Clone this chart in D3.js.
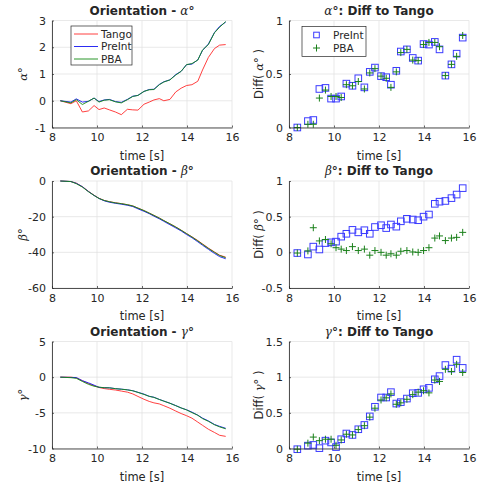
<!DOCTYPE html>
<html><head><meta charset="utf-8">
<script src="https://cdn.jsdelivr.net/npm/d3@7"></script>
<style>
body{margin:0;background:#fff;}
svg text{font-family:"DejaVu Sans",sans-serif;fill:#262626;}
</style></head><body>
<svg id="c" width="477" height="485"></svg>
<script>
const times = [8.37, 8.84, 9.08, 9.35, 9.62, 9.87, 10.09, 10.32, 10.55, 10.82, 11.08, 11.35, 11.59, 11.82, 12.09, 12.32, 12.53, 12.77, 12.97, 13.24, 13.5, 13.74, 13.98, 14.22, 14.48, 14.69, 14.95, 15.22, 15.45, 15.72];

const alphaTango  = [0, -0.11, 0.0, -0.42, -0.38, -0.18, -0.33, -0.27, -0.34, -0.42, -0.52, -0.32, -0.34, -0.35, -0.13, -0.05, 0.03, 0.08, 0.0, 0.05, 0.33, 0.47, 0.57, 0.6, 0.73, 1.15, 1.62, 1.95, 2.08, 2.1];
const alphaPreint = [0, -0.05, 0.07, -0.05, -0.02, 0.1, -0.03, 0.03, 0.05, -0.03, -0.06, 0.05, 0.17, 0.2, 0.35, 0.42, 0.43, 0.61, 0.71, 0.78, 0.98, 1.1, 1.35, 1.37, 1.53, 1.88, 2.12, 2.55, 2.78, 2.94];
const alphaPBA    = [0, -0.08, 0.04, -0.14, -0.02, 0.1, -0.05, 0.02, 0.04, -0.04, -0.08, 0.04, 0.16, 0.2, 0.35, 0.41, 0.42, 0.6, 0.7, 0.78, 0.96, 1.1, 1.35, 1.39, 1.52, 1.9, 2.1, 2.54, 2.75, 2.96];

const betaTango  = [0, -0.3, -1.2, -3.2, -5.8, -8.0, -9.7, -10.9, -11.6, -12.2, -12.7, -13.3, -14.0, -15.2, -16.6, -18.0, -19.3, -20.8, -22.2, -24.0, -25.8, -27.6, -29.5, -31.3, -33.4, -35.3, -37.6, -39.8, -41.6, -42.7];
const betaPreint = [0, -0.3, -1.3, -3.2, -5.9, -8.1, -9.8, -11.1, -11.9, -12.5, -13.0, -13.6, -14.3, -15.6, -17.0, -18.3, -19.7, -21.2, -22.6, -24.5, -26.3, -28.0, -30.0, -31.8, -34.1, -36.0, -38.3, -40.6, -42.4, -43.6];
const betaPBA    = [0, -0.3, -1.5, -3.4, -6.0, -8.1, -9.8, -10.9, -11.6, -12.3, -12.7, -13.3, -14.0, -15.2, -16.6, -18.0, -19.3, -20.8, -22.2, -24.0, -25.8, -27.6, -29.5, -31.4, -33.6, -35.5, -37.8, -40.0, -41.8, -43.0];

const gammaTango  = [0, 0, -0.1, -0.5, -0.9, -1.2, -1.45, -1.6, -1.7, -1.8, -1.95, -2.1, -2.35, -2.7, -3.1, -3.4, -3.6, -3.75, -4.0, -4.35, -4.75, -5.1, -5.4, -5.75, -6.3, -6.75, -7.3, -7.75, -8.15, -8.3];
const gammaPreint = [0, -0.04, -0.05, -0.5, -0.8, -1.12, -1.43, -1.47, -1.49, -1.61, -1.68, -1.77, -1.9, -2.12, -2.38, -2.68, -2.81, -3.12, -3.35, -3.65, -3.98, -4.32, -4.57, -4.9, -5.33, -5.74, -6.13, -6.63, -6.9, -7.17];
const gammaPBA    = [0, -0.07, -0.16, -0.6, -1.0, -1.27, -1.4, -1.48, -1.5, -1.61, -1.69, -1.78, -1.91, -2.14, -2.42, -2.69, -2.84, -3.13, -3.36, -3.66, -4.0, -4.31, -4.59, -4.97, -5.34, -5.81, -6.19, -6.67, -6.97, -7.24];

const alphaDiffPreint = [0, 0.06, 0.07, 0.36, 0.37, 0.27, 0.27, 0.29, 0.41, 0.39, 0.46, 0.375, 0.52, 0.56, 0.48, 0.47, 0.40, 0.53, 0.71, 0.73, 0.65, 0.625, 0.78, 0.775, 0.80, 0.73, 0.485, 0.59, 0.69, 0.84];
const alphaDiffPBA    = [0, 0.03, 0.03, 0.275, 0.35, 0.29, 0.29, 0.28, 0.40, 0.39, 0.43, 0.36, 0.51, 0.55, 0.48, 0.46, 0.375, 0.52, 0.70, 0.73, 0.63, 0.625, 0.775, 0.795, 0.795, 0.755, 0.485, 0.59, 0.665, 0.86];
const betaDiffPreint  = [-0.01, -0.03, 0.08, 0.04, 0.13, 0.14, 0.15, 0.22, 0.26, 0.315, 0.28, 0.31, 0.26, 0.355, 0.38, 0.34, 0.39, 0.36, 0.435, 0.47, 0.46, 0.45, 0.50, 0.53, 0.68, 0.71, 0.72, 0.76, 0.81, 0.90];
const betaDiffPBA     = [-0.01, 0.02, 0.345, 0.16, 0.18, 0.12, 0.065, 0.045, 0.025, 0.08, 0.025, 0.045, -0.04, 0.025, 0.0, -0.04, -0.02, -0.04, 0.015, 0.025, 0.005, 0.0, 0.025, 0.065, 0.20, 0.23, 0.165, 0.20, 0.21, 0.28];
const gammaDiffPreint = [-0.01, 0.04, 0.05, 0.005, 0.11, 0.085, 0.02, 0.13, 0.21, 0.19, 0.27, 0.33, 0.45, 0.585, 0.715, 0.715, 0.79, 0.63, 0.65, 0.70, 0.775, 0.78, 0.83, 0.85, 0.97, 1.015, 1.17, 1.12, 1.245, 1.13];
const gammaDiffPBA    = [-0.01, 0.075, 0.16, 0.11, 0.13, 0.13, 0.045, 0.12, 0.20, 0.19, 0.265, 0.32, 0.44, 0.565, 0.68, 0.71, 0.765, 0.62, 0.64, 0.69, 0.755, 0.79, 0.81, 0.78, 0.96, 0.94, 1.11, 1.08, 1.18, 1.065];

const xTicks = [8, 10, 12, 14, 16];
const seriesNames = ["Tango", "PreInt", "PBA"];
const colors = {Tango: "#ff2a2a", PreInt: "#1414f0", PBA: "#138a13"};
const markColors = {PreInt: "#3b3bff", PBA: "#1a801a"};

const svg = d3.select("#c");
const W = 180, H = 107;
const colX = [52, 289];
const rowY = [20.5, 181, 341.5];
const fmt = d => String(d);

const panels = [
  {row:0, col:0, type:"line", sym:"α", yd:[-1,3], yt:[-1,0,1,2,3], data:[alphaTango, alphaPreint, alphaPBA], legend:true},
  {row:0, col:1, type:"scatter", sym:"α", yd:[0,1], yt:[0,0.5,1], data:[alphaDiffPreint, alphaDiffPBA], legend:true},
  {row:1, col:0, type:"line", sym:"β", yd:[-60,0], yt:[-60,-40,-20,0], data:[betaTango, betaPreint, betaPBA]},
  {row:1, col:1, type:"scatter", sym:"β", yd:[-0.5,1], yt:[-0.5,0,0.5,1], data:[betaDiffPreint, betaDiffPBA]},
  {row:2, col:0, type:"line", sym:"γ", yd:[-10,5], yt:[-10,-5,0,5], data:[gammaTango, gammaPreint, gammaPBA]},
  {row:2, col:1, type:"scatter", sym:"γ", yd:[0,1.5], yt:[0,0.5,1,1.5], data:[gammaDiffPreint, gammaDiffPBA]},
];

function greekText(sel, before, sym, after){
  if(before) sel.append("tspan").text(before);
  sel.append("tspan").attr("font-family","DejaVu Serif").attr("font-style","italic").attr("font-weight","normal").text(sym);
  sel.append("tspan").attr("font-weight", sel.attr("font-weight")||"normal").text("°" + (after||""));
}

panels.forEach(p => {
  const x0 = colX[p.col], y0 = rowY[p.row];
  const g = svg.append("g").attr("transform", `translate(${x0},${y0})`);
  const x = d3.scaleLinear().domain([8,16]).range([0,W]);
  const y = d3.scaleLinear().domain(p.yd).range([H,0]);

  // grid
  g.append("g").selectAll("line").data(xTicks).join("line")
    .attr("x1", d=>x(d)).attr("x2", d=>x(d)).attr("y1",0).attr("y2",H)
    .attr("stroke","#e0e0e0").attr("stroke-width",0.7);
  g.append("g").selectAll("line").data(p.yt).join("line")
    .attr("y1", d=>y(d)).attr("y2", d=>y(d)).attr("x1",0).attr("x2",W)
    .attr("stroke","#e0e0e0").attr("stroke-width",0.7);

  const clip = "clip"+p.row+p.col;
  g.append("clipPath").attr("id",clip).append("rect").attr("x",-4).attr("y",-4).attr("width",W+8).attr("height",H+8);

  if(p.type === "line"){
    const line = d3.line().x((d,i)=>x(times[i])).y(d=>y(d));
    p.data.forEach((arr, k) => {
      g.append("path").datum(arr).attr("d", line).attr("fill","none")
        .attr("stroke", colors[seriesNames[k]]).attr("stroke-width", 0.9)
        .attr("clip-path",`url(#${clip})`);
    });
  } else {
    const names = ["PreInt","PBA"];
    p.data.forEach((arr, k) => {
      const gg = g.append("g");
      if(names[k] === "PreInt"){
        gg.selectAll("rect").data(arr).join("rect")
          .attr("x",(d,i)=>x(times[i])-3.3).attr("y",d=>y(d)-3.3)
          .attr("width",6.6).attr("height",6.6).attr("fill","none")
          .attr("stroke",markColors.PreInt).attr("stroke-width",1);
      } else {
        gg.selectAll("path").data(arr).join("path")
          .attr("d",(d,i)=>{const cx=x(times[i]), cy=y(d); return `M${cx-3.5},${cy}H${cx+3.5}M${cx},${cy-3.5}V${cy+3.5}`;})
          .attr("stroke",markColors.PBA).attr("stroke-width",1).attr("fill","none");
      }
    });
  }

  // axes (left & bottom only, ticks inward)
  const xa = g.append("g").attr("transform",`translate(0,${H})`)
    .call(d3.axisBottom(x).tickValues(xTicks).tickFormat(fmt).tickSizeInner(-2).tickSizeOuter(0).tickPadding(6));
  const ya = g.append("g")
    .call(d3.axisLeft(y).tickValues(p.yt).tickFormat(fmt).tickSizeInner(-2).tickSizeOuter(0).tickPadding(6));
  [xa, ya].forEach(a => {
    a.select(".domain").attr("stroke","#262626").attr("stroke-width",0.8);
    a.selectAll(".tick line").attr("stroke","#262626").attr("stroke-width",0.7);
    a.selectAll("text").attr("font-size",11).attr("fill","#262626").attr("font-family","DejaVu Sans");
  });

  // title
  const t = g.append("text").attr("x",W/2).attr("y",-6).attr("text-anchor","middle")
    .attr("font-size",12).attr("font-weight","bold").attr("fill","#000");
  if(p.type==="line"){
    greekText(t, "Orientation - ", p.sym, "");
  } else {
    greekText(t, "", p.sym, ": Diff to Tango");
  }
  // x label
  g.append("text").attr("x",W/2).attr("y",H+32).attr("text-anchor","middle")
    .attr("font-size",11.5).text("time [s]");
  // y label
  const yl = g.append("text").attr("transform",`translate(${p.type==="line"?-25:-26},${H/2}) rotate(-90)`)
    .attr("text-anchor","middle").attr("font-size",11.5);
  if(p.type==="line") greekText(yl, "", p.sym, "");
  else greekText(yl, "Diff( ", p.sym, " )");

  // legends
  if(p.legend && p.type==="line"){
    const lg = g.append("g").attr("transform","translate(19,5.5)");
    lg.append("rect").attr("width",61).attr("height",39).attr("fill","#fff").attr("stroke","#262626").attr("stroke-width",0.7);
    seriesNames.forEach((n,k)=>{
      const yy = 8 + k*12.5;
      lg.append("line").attr("x1",3).attr("x2",27).attr("y1",yy).attr("y2",yy).attr("stroke",colors[n]).attr("stroke-width",0.9);
      lg.append("text").attr("x",30).attr("y",yy+3.8).attr("font-size",10.5).attr("fill","#000").text(n);
    });
  }
  if(p.legend && p.type==="scatter"){
    const lg = g.append("g").attr("transform","translate(13,6)");
    lg.append("rect").attr("width",64).attr("height",30).attr("fill","#fff").attr("stroke","#262626").attr("stroke-width",0.7);
    const names=["PreInt","PBA"];
    names.forEach((n,k)=>{
      const yy = 8.5 + k*13;
      const cx = 14.5;
      if(n==="PreInt"){
        lg.append("rect").attr("x",cx-2.8).attr("y",yy-2.8).attr("width",5.6).attr("height",5.6).attr("fill","none").attr("stroke",markColors.PreInt);
      } else {
        lg.append("path").attr("d",`M${cx-3.5},${yy}H${cx+3.5}M${cx},${yy-3.5}V${yy+3.5}`).attr("stroke",markColors.PBA);
      }
      lg.append("text").attr("x",31).attr("y",yy+3.8).attr("font-size",10.5).attr("fill","#000").text(n);
    });
  }
});
</script>
</body></html>
